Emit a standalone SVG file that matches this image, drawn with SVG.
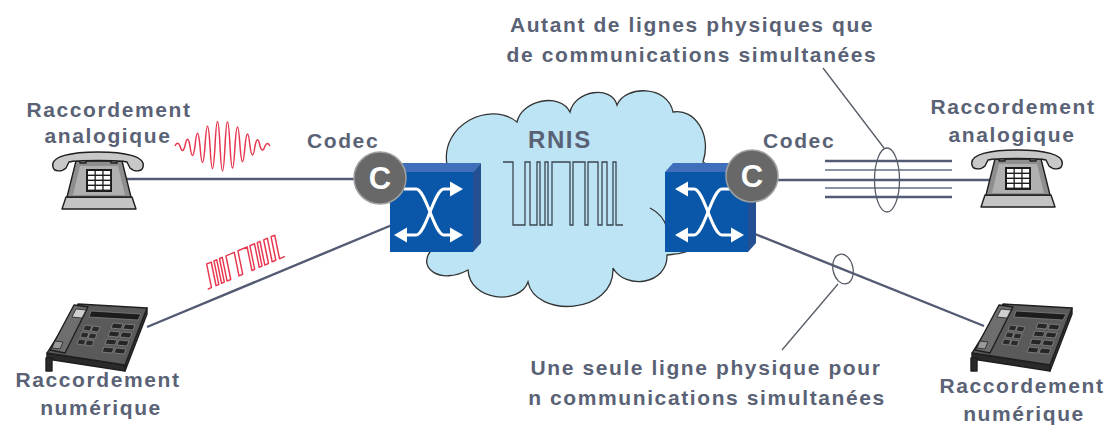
<svg xmlns="http://www.w3.org/2000/svg" width="1110" height="426" viewBox="0 0 1110 426">
  <style>
    .lbl { font-family: "Liberation Sans", Arial, sans-serif; font-weight: bold; font-size: 21px; fill: #5a6276; letter-spacing: 1.6px; }
    .mid { text-anchor: middle; }
    .wire { fill: none; stroke: #525b73; stroke-width: 2.4; }
    .wire-lt { fill: none; stroke: #8a92a4; stroke-width: 2; }
    .lead { fill: none; stroke: #555b66; stroke-width: 1.3; }
    .sig-red { fill: none; stroke: #e6374f; stroke-width: 1.5; stroke-linejoin: round; }
    .sig-dark { fill: none; stroke: #3c4552; stroke-width: 1.3; }
    .codec-disc { fill: #686868; stroke: #a0a0a0; stroke-width: 1.5; }
    .codec-txt { font-family: "Liberation Sans", Arial, sans-serif; font-weight: bold; font-size: 31px; fill: #ffffff; text-anchor: middle; }
    .ph-line { stroke: #1e1e1e; stroke-width: 1.4; stroke-linejoin: round; }
  </style>
  <defs>
    <!-- analog desk telephone, origin at the handset's top-left -->
    <g id="analogPhone">
      <polygon class="ph-line" points="16,46 82,46 86,58 12,58" fill="#c4c4c4"/>
      <polygon class="ph-line" points="26,10 72,10 81,46 17,46" fill="#8e8e8e"/>
      <polygon points="30,15 68,15 75,44 23,44" fill="#b0b0b0"/>
      <rect x="30" y="6" width="6" height="6" fill="#8e8e8e" class="ph-line"/>
      <rect x="61" y="6" width="6" height="6" fill="#8e8e8e" class="ph-line"/>
      <path class="ph-line" fill="#c8c8c8" d="M3,16 C0,5 22,1 48,1 C74,1 96,5 93,16 C92,21 84,21 80,17 L77,11 C70,9 26,9 19,11 L16,17 C12,21 4,21 3,16 Z"/>
      <rect x="36" y="18" width="26" height="23" fill="#1c1c1c"/>
      <g fill="#ffffff">
        <rect x="38" y="20" width="6.5" height="3.6"/><rect x="45.8" y="20" width="6.5" height="3.6"/><rect x="53.6" y="20" width="6.5" height="3.6"/>
        <rect x="38" y="25" width="6.5" height="3.6"/><rect x="45.8" y="25" width="6.5" height="3.6"/><rect x="53.6" y="25" width="6.5" height="3.6"/>
        <rect x="38" y="30" width="6.5" height="3.6"/><rect x="45.8" y="30" width="6.5" height="3.6"/><rect x="53.6" y="30" width="6.5" height="3.6"/>
        <rect x="38" y="35" width="6.5" height="3.6"/><rect x="45.8" y="35" width="6.5" height="3.6"/><rect x="53.6" y="35" width="6.5" height="3.6"/>
      </g>
    </g>
    <!-- digital feature phone seen in perspective -->
    <g id="digitalPhone">
      <polygon points="2,50 80,62 80,68 2,56" fill="#2a2a2a" class="ph-line"/>
      <polygon points="102,5 102,11 80,68 80,62" fill="#3a3a3a" class="ph-line"/>
      <polygon points="33,1 102,5 80,62 2,50" fill="#5a5a5a" class="ph-line"/>
      <polygon points="46,8 96,11 93,17 44,14" fill="#1c1c1c" stroke="#8a8a8a" stroke-width="0.7"/>
      <polygon points="29,2 43,4 20,50 5,47" fill="#6e6e6e" class="ph-line"/>
      <polygon points="31,6 41,7 37,15 27,14" fill="#cfcfcf" stroke="#222" stroke-width="0.8"/>
      <polygon points="10,38 18,39 15,46 7,45" fill="#999" stroke="#222" stroke-width="0.8"/>
      <g fill="#2a2a2a" stroke="#9a9a9a" stroke-width="0.6">
        <polygon points="40,22 47,23 45,28 38,27"/><polygon points="48,23 55,24 53,29 46,28"/>
        <polygon points="37,29 44,30 42,35 35,34"/><polygon points="45,30 52,31 50,36 43,35"/>
        <polygon points="34,36 41,37 39,42 32,41"/><polygon points="42,37 49,38 47,43 40,42"/>
      </g>
      <g fill="#262626" stroke="#a0a0a0" stroke-width="0.6">
        <polygon points="68,20 78,21 76,26 66,25"/><polygon points="80,21 90,22 88,27 78,26"/>
        <polygon points="65,28 75,29 73,34 63,33"/><polygon points="77,29 87,30 85,35 75,34"/>
        <polygon points="62,36 72,37 70,42 60,41"/><polygon points="74,37 84,38 82,43 72,42"/>
        <polygon points="59,44 69,45 67,50 57,49"/><polygon points="71,45 81,46 79,51 69,50"/>
      </g>
      <rect x="1" y="55" width="6" height="13" fill="#2a2a2a" class="ph-line"/>
    </g>
    <!-- switching node: 3D block, arrows drawn separately -->
    <g id="switchBox">
      <polygon points="0,0 8,-9 91,-9 83,0" fill="#3f6fba"/>
      <polygon points="83,0 91,-9 91,71 83,80" fill="#244f92"/>
      <rect x="0" y="0" width="83" height="80" fill="#0a56a8"/>
    </g>
    <g id="switchArrows" fill="#ffffff">
      <path d="M14,17 H26 C36,17 44,63 54,63 H61" fill="none" stroke="#ffffff" stroke-width="3"/>
      <path d="M16,63 H26 C36,63 44,17 54,17 H61" fill="none" stroke="#ffffff" stroke-width="3"/>
      <polygon points="60,9.5 73,17 60,24.5"/>
      <polygon points="60,55.5 73,63 60,70.5"/>
      <polygon points="17,55.5 4,63 17,70.5"/>
    </g>
  </defs>

  <!-- ISDN cloud -->
  <g id="cloud-rnis">
    <path d="M447,165 C440,125 490,100 517,122 C522,100 560,92 570,112 C575,90 612,85 617,105 C625,85 668,85 673,112 C695,108 712,135 703,162 C740,180 740,250 667,255 C668,285 625,290 613,268 C615,315 535,318 528,282 C520,305 470,302 468,270 C440,285 418,268 430,252 C400,240 410,170 447,165 Z" fill="#bde4f4" stroke="#333" stroke-width="1.3"/>
    <path d="M650,208 C658,212 664,218 667,228" fill="none" stroke="#333" stroke-width="1.3"/>
    <text class="lbl" x="528" y="148" style="font-size:24px">RNIS</text>
    <path class="sig-dark" d="M503,162 H513 V225 H525 V162 H530 V225 H537 V162 H540 V225 H545 V162 H548 V225 H552 V162 H570 V225 H573 V162 H585 V225 H588 V162 H598 V225 H602 V162 H607 V225 H613 V162 H616 V225 H623"/>
  </g>

  <!-- connectors -->
  <g id="connectors">
    <line class="wire" x1="126" y1="179" x2="356" y2="179"/>
    <line class="wire" x1="147" y1="327" x2="392" y2="225"/>
    <line class="wire" x1="755" y1="234" x2="984" y2="326"/>
    <line class="wire" x1="776" y1="180" x2="992" y2="180"/>
    <line class="wire" x1="825" y1="161" x2="952" y2="161"/>
    <line class="wire-lt" x1="825" y1="170" x2="952" y2="170"/>
    <line class="wire-lt" x1="825" y1="188" x2="952" y2="188"/>
    <line class="wire" x1="825" y1="197" x2="952" y2="197"/>
    <ellipse class="lead" cx="887" cy="180" rx="12.5" ry="32"/>
    <line class="lead" x1="823" y1="68" x2="884" y2="148"/>
    <ellipse class="lead" cx="843" cy="269" rx="10" ry="15" transform="rotate(-12 843 269)"/>
    <line class="lead" x1="838" y1="284" x2="782" y2="350"/>
  </g>

  <!-- line signals -->
  <g id="signals">
    <path class="sig-red" d="M175,146 Q177.5,140.4 180,146 Q182.5,154.8 185,146 Q187.5,132.6 190,146 Q192.5,165 195,146 Q197.5,120.4 200,146 Q202.5,178.8 205,146 Q207.5,106.4 210,146 Q212.5,191.2 215,146 Q217.5,97.2 220,146 Q222.5,196 225,146 Q227.5,97.6 230,146 Q232.5,190.2 235,146 Q237.5,107.8 240,146 Q242.5,177.4 245,146 Q247.5,121.8 250,146 Q252.5,163.8 255,146 Q257.5,133.6 260,146 Q262.5,154.2 265,146 Q267.5,141 270,146"/>
    <path class="sig-red" transform="matrix(0.92,-0.39,0.2,0.98,244,261)" d="M-42,12 L-38,12 L-38,-12 L-33,-12 L-33,12 L-30,12 L-30,-12 L-27,-12 L-27,12 L-24,12 L-24,-12 L-21,-12 L-21,12 L-17,12 L-17,-12 L-8,-12 L-8,12 L-4,12 L-4,-12 L6,-12 L6,12 L9,12 L9,-12 L14,-12 L14,12 L17,12 L17,-12 L20,-12 L20,12 L24,12 L24,-12 L28,-12 L28,12 L32,12 L32,-12 L36,-12 L36,12 L42,12"/>
  </g>

  <!-- switches -->
  <g id="switch-left">
    <use href="#switchBox" x="390" y="172"/>
    <use href="#switchArrows" x="390" y="172"/>
  </g>
  <g id="switch-right">
    <use href="#switchBox" x="665" y="172"/>
    <use href="#switchArrows" transform="translate(748,172) scale(-1,1)"/>
  </g>

  <!-- codecs -->
  <g id="codec-left">
    <circle class="codec-disc" cx="380" cy="178" r="26"/>
    <text class="codec-txt" x="380" y="189">C</text>
    <text class="lbl" x="307" y="148">Codec</text>
  </g>
  <g id="codec-right">
    <circle class="codec-disc" cx="752" cy="176" r="26"/>
    <text class="codec-txt" x="752" y="187">C</text>
    <text class="lbl" x="763" y="148">Codec</text>
  </g>

  <!-- terminals -->
  <g id="phone-analog-left">
    <use href="#analogPhone" x="50" y="151"/>
    <text class="lbl mid" x="109" y="117">Raccordement</text>
    <text class="lbl mid" x="108" y="143">analogique</text>
  </g>
  <g id="phone-analog-right">
    <use href="#analogPhone" x="969" y="149"/>
    <text class="lbl mid" x="1013" y="114">Raccordement</text>
    <text class="lbl mid" x="1012" y="142">analogique</text>
  </g>
  <g id="phone-digital-left">
    <use href="#digitalPhone" x="45" y="303"/>
    <text class="lbl mid" x="98" y="387">Raccordement</text>
    <text class="lbl mid" x="101" y="415">numérique</text>
  </g>
  <g id="phone-digital-right">
    <use href="#digitalPhone" x="970" y="303"/>
    <text class="lbl mid" x="1022" y="393">Raccordement</text>
    <text class="lbl mid" x="1024" y="421">numérique</text>
  </g>

  <!-- annotations -->
  <g id="notes">
    <text class="lbl mid" x="692" y="32">Autant de lignes physiques que</text>
    <text class="lbl mid" x="692" y="62">de communications simultanées</text>
    <text class="lbl mid" x="706" y="375">Une seule ligne physique pour</text>
    <text class="lbl mid" x="707" y="405">n communications simultanées</text>
  </g>
</svg>
